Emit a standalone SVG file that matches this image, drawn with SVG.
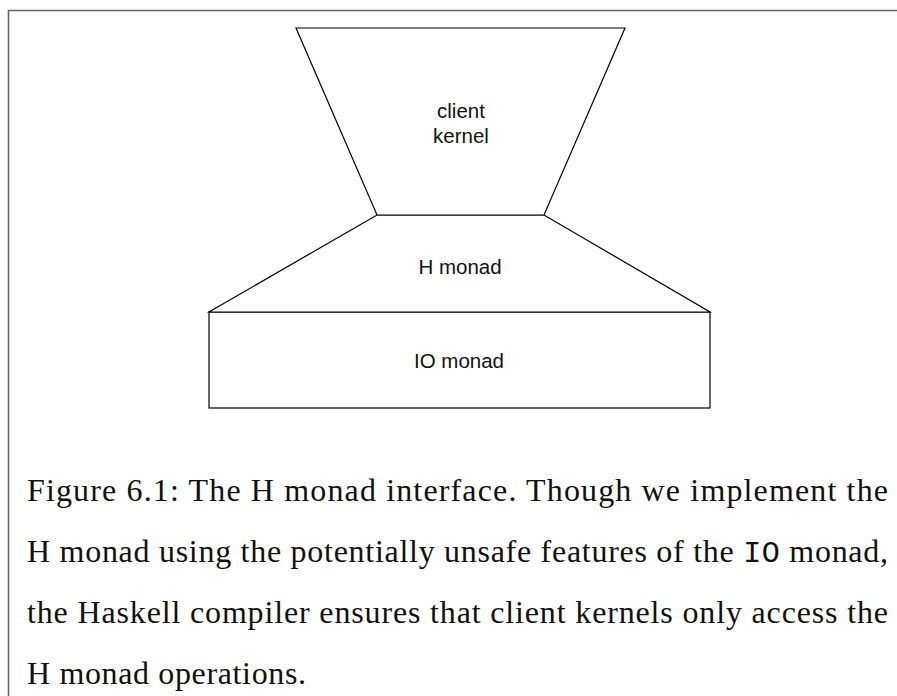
<svg xmlns="http://www.w3.org/2000/svg" width="897" height="696" viewBox="0 0 897 696">
<style>
.shape{fill:#fff;stroke:#000;stroke-width:1.2}
.lbl{font-family:"Liberation Sans",Arial,sans-serif;font-size:20.5px;fill:#111;text-anchor:middle}
.cap{font-family:"Liberation Serif","Times New Roman",serif;font-size:32px;fill:#111}
.mono{font-family:"Liberation Mono","DejaVu Sans Mono",monospace;font-size:30px}
</style>
<rect width="897" height="696" fill="#fff"/>
<path d="M8.5 696 V10.5 H897" fill="none" stroke="#666" stroke-width="1.6"/>
<g id="io-monad">
<rect class="shape" x="209" y="312" width="501" height="96"/>
<text class="lbl" x="459" y="368">IO monad</text>
</g>
<g id="h-monad">
<polygon class="shape" points="377,215 544,215 710,312 209,312"/>
<text class="lbl" x="460" y="274">H monad</text>
</g>
<g id="client-kernel">
<polygon class="shape" points="296,28 625,28 544,215 377,215"/>
<text class="lbl" x="461" y="118">client</text>
<text class="lbl" x="461" y="143">kernel</text>
</g>
<g id="connectors"></g>
<g id="caption">
<text class="cap" x="27" y="501" textLength="861" lengthAdjust="spacing">Figure 6.1: The H monad interface. Though we implement the</text>
<text class="cap" x="27" y="562" textLength="861" lengthAdjust="spacing">H monad using the potentially unsafe features of the <tspan class="mono">IO</tspan> monad,</text>
<text class="cap" x="27" y="623" textLength="861" lengthAdjust="spacing">the Haskell compiler ensures that client kernels only access the</text>
<text class="cap" x="27" y="684" textLength="279" lengthAdjust="spacing">H monad operations.</text>
</g>
</svg>
